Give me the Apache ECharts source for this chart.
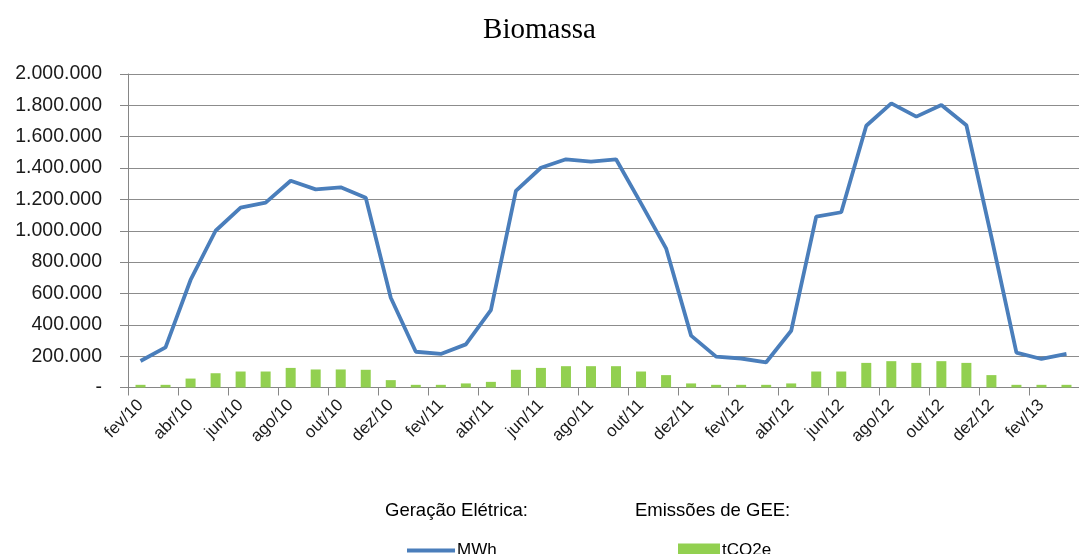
<!DOCTYPE html>
<html><head><meta charset="utf-8">
<script src="https://cdn.jsdelivr.net/npm/echarts@6/dist/echarts.min.js"></script>
<style>html,body{margin:0;padding:0;background:#fff}#c{width:1079px;height:554px}</style>
</head><body><div id="c"></div>
<script>
const categories = ['fev/10','mar/10','abr/10','mai/10','jun/10','jul/10','ago/10','set/10','out/10','nov/10','dez/10','jan/11',
 'fev/11','mar/11','abr/11','mai/11','jun/11','jul/11','ago/11','set/11','out/11','nov/11','dez/11','jan/12',
 'fev/12','mar/12','abr/12','mai/12','jun/12','jul/12','ago/12','set/12','out/12','nov/12','dez/12','jan/13',
 'fev/13','mar/13'];
const mwh = [169000,256000,686000,1000000,1147000,1179000,1319000,1264000,1277000,1211000,573000,228000,
 214000,275000,494000,1254000,1402000,1456000,1441000,1456000,1175000,888000,331000,197000,
 185000,161000,362000,1090000,1118000,1670000,1813000,1728000,1802000,1673000,960000,222000,
 182000,214000];
const tco2e = [17000,17000,57000,91000,102000,102000,125000,115000,115000,113000,47000,17000,
 17000,26000,36000,113000,125000,136000,136000,136000,102000,79000,26000,17000,
 17000,17000,26000,102000,102000,157000,168000,157000,168000,157000,79000,17000,
 17000,17000];
const yTicks = {min:0, max:2000000, interval:200000};

function fmt(v){ if(v===0) return '-'; return String(v).replace(/\B(?=(\d{3})+(?!\d))/g,'.'); }

const chart = echarts.init(document.getElementById('c'), null, {renderer:'canvas'});
chart.setOption({
  animation:false,
  backgroundColor:'#fff',
  title:{text:'Biomassa', left:'center', top:11,
    textStyle:{fontFamily:'Liberation Serif', fontSize:29, fontWeight:'normal', color:'#000'}},
  grid:{left:128, top:74, width:962, height:313.5},
  legend:[
    {data:[{name:'MWh', icon:'rect'}], left:402, top:537, itemWidth:48, itemHeight:4, itemGap:2,
     textStyle:{fontFamily:'Liberation Sans', fontSize:17, color:'#000', padding:[0,0,0,-3]}},
    {data:[{name:'tCO2e', icon:'rect'}], left:673, top:537, itemWidth:42, itemHeight:14,
     textStyle:{fontFamily:'Liberation Sans', fontSize:17, color:'#000', padding:[0,0,0,-3]}}
  ],
  graphic:[
    {type:'text', left:385, top:501, style:{text:'Geração Elétrica:', font:'18.5px "Liberation Sans"', fill:'#000'}},
    {type:'text', left:635, top:501, style:{text:'Emissões de GEE:', font:'18.5px "Liberation Sans"', fill:'#000'}}
  ],
  xAxis:{type:'category', data:categories, boundaryGap:true,
    axisLine:{lineStyle:{color:'#868686', width:1}},
    axisTick:{show:true, interval:1, length:8, lineStyle:{color:'#868686'}},
    axisLabel:{interval:1, rotate:45, margin:15, fontFamily:'Liberation Sans', fontSize:17, color:'#1a1a1a'},
    splitLine:{show:false}},
  yAxis:{type:'value', min:yTicks.min, max:yTicks.max, interval:yTicks.interval,
    axisLine:{show:true, lineStyle:{color:'#868686'}},
    axisTick:{show:true, length:8, lineStyle:{color:'#868686'}},
    axisLabel:{formatter:fmt, margin:26, fontFamily:'Liberation Sans', fontSize:19.5, color:'#1a1a1a'},
    splitLine:{lineStyle:{color:'#8c8c8c', width:1.2}}},
  series:[
    {name:'tCO2e', type:'bar', data:tco2e, barWidth:10, itemStyle:{color:'#92D050'}, z:2},
    {name:'MWh', type:'line', data:mwh, symbol:'none', z:3,
     lineStyle:{color:'#4A7EBB', width:3.8}, itemStyle:{color:'#4A7EBB'}}
  ]
});
</script></body></html>
